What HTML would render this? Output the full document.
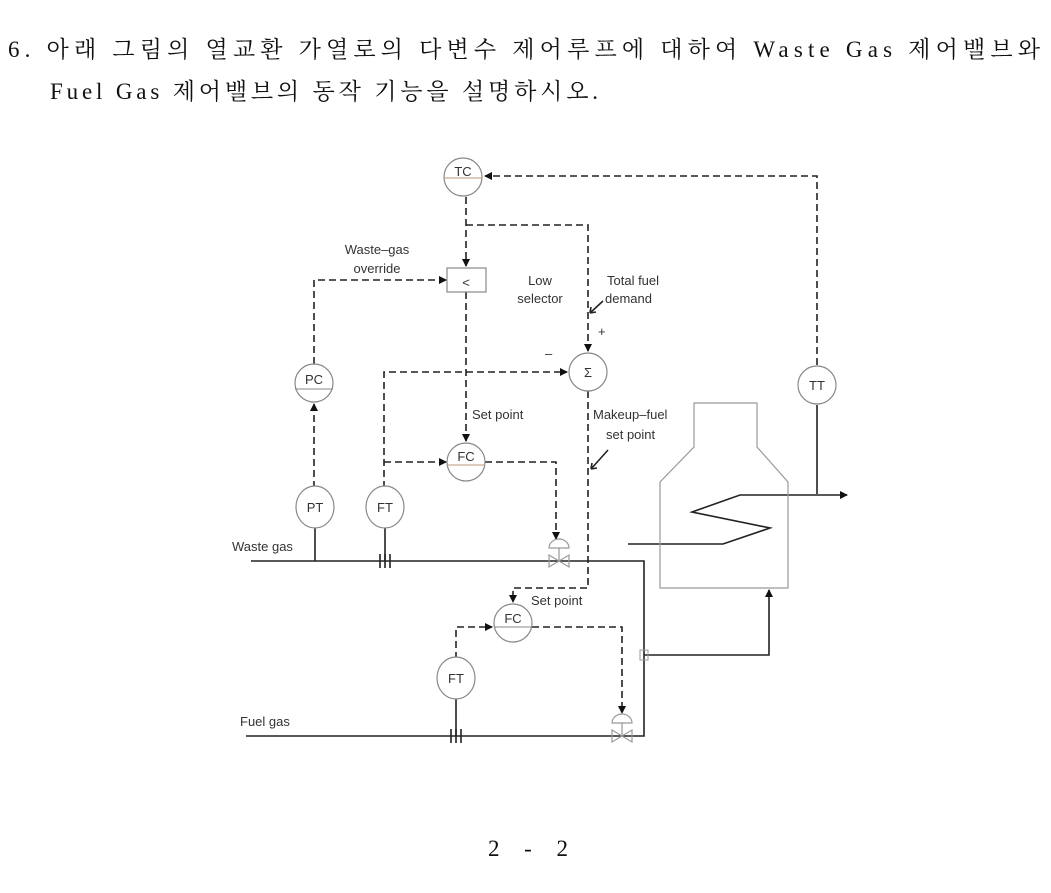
<!DOCTYPE html>
<html><head><meta charset="utf-8"><style>
html,body{margin:0;padding:0;background:#fff;width:1051px;height:893px;overflow:hidden}
svg{display:block}
.t{font-family:"Liberation Serif","Noto Serif CJK SC","Noto Sans CJK KR",serif;font-size:23px;fill:#111}
.s{font-family:"Liberation Sans",sans-serif;font-size:13px;fill:#333}
.d{stroke:#222;stroke-width:1.6;stroke-dasharray:7,4;fill:none}
.l{stroke:#222;stroke-width:1.6;fill:none}
.c{stroke:#888;stroke-width:1.2;fill:#fff}
.g{stroke:#999;stroke-width:1.2;fill:none}
</style></head><body>
<svg width="1051" height="893" viewBox="0 0 1051 893">
<defs><marker id="a" markerWidth="8" markerHeight="8" refX="7" refY="4" orient="auto" markerUnits="userSpaceOnUse"><path d="M0,0 L8,4 L0,8z" fill="#111"/></marker></defs>
<text class="t" x="8" y="57" textLength="1032" lengthAdjust="spacing">6. 아래 그림의 열교환 가열로의 다변수 제어루프에 대하여 Waste Gas 제어밸브와</text>
<text class="t" x="50" y="99" textLength="548" lengthAdjust="spacing">Fuel Gas 제어밸브의 동작 기능을 설명하시오.</text>
<text class="t" x="488" y="856" textLength="80" lengthAdjust="spacing">2 - 2</text>

<!-- dashed signal lines -->
<path class="d" d="M817,365 V176 H485" marker-end="url(#a)"/>
<path class="d" d="M466,197 V266" marker-end="url(#a)"/>
<path class="d" d="M466,225 H588 V351" marker-end="url(#a)"/>
<path class="d" d="M314,364 V280 H446" marker-end="url(#a)"/>
<path class="d" d="M466,292 V441" marker-end="url(#a)"/>
<path class="d" d="M384,488 V372 H567" marker-end="url(#a)"/>
<path class="d" d="M384,462 H446" marker-end="url(#a)"/>
<path class="d" d="M485,462 H556 V539" marker-end="url(#a)"/>
<path class="d" d="M314,488 V404" marker-end="url(#a)"/>
<path class="d" d="M588,391 V588 H513 V602" marker-end="url(#a)"/>
<path class="d" d="M456,659 V627 H492" marker-end="url(#a)"/>
<path class="d" d="M532,627 H622 V713" marker-end="url(#a)"/>

<!-- process lines -->
<path class="l" d="M251,561 H644 V736 H246"/>
<path class="l" d="M315,527 V561 M385,527 V561 M456,698 V736"/>
<path class="l" d="M380,554 V568 M385,554 V568 M390,554 V568 M451,729 V743 M456,729 V743 M461,729 V743"/>
<path class="l" d="M644,655 H769 V590" marker-end="url(#a)"/>
<path class="l" d="M817,405 V494"/>
<path class="l" d="M628,544 H723 L770,528 L692,512 L740,495 H847" marker-end="url(#a)"/>

<!-- furnace -->
<path class="g" d="M660,588 V482 L694,447 V403 H757 V447 L788,482 V588 Z"/>
<rect x="640" y="650" width="8" height="10" fill="none" stroke="#999"/>

<!-- valves -->
<g class="g"><path d="M549,555 L569,567 V555 L549,567 Z M559,561 V548"/><path d="M549,548 A10,9 0 0 1 569,548 Z"/></g>
<g class="g"><path d="M612,730 L632,742 V730 L612,742 Z M622,736 V723"/><path d="M612,723 A10,9 0 0 1 632,723 Z"/></g>

<!-- instruments -->
<g>
<circle class="c" cx="463" cy="177" r="19"/><line x1="444" y1="178" x2="482" y2="178" stroke="#b97" /><text class="s" x="463" y="176" text-anchor="middle">TC</text>
<rect x="447" y="268" width="39" height="24" class="c"/><text class="s" x="466" y="287" text-anchor="middle" font-size="18">&lt;</text>
<circle class="c" cx="314" cy="383" r="19"/><line x1="295" y1="389" x2="333" y2="389" stroke="#888"/><text class="s" x="314" y="384" text-anchor="middle">PC</text>
<circle class="c" cx="588" cy="372" r="19"/><text class="s" x="588" y="377" text-anchor="middle">Σ</text>
<circle class="c" cx="466" cy="462" r="19"/><line x1="447" y1="465" x2="485" y2="465" stroke="#b97"/><text class="s" x="466" y="461" text-anchor="middle">FC</text>
<circle class="c" cx="817" cy="385" r="19"/><text class="s" x="817" y="390" text-anchor="middle">TT</text>
<ellipse class="c" cx="315" cy="507" rx="19" ry="21"/><text class="s" x="315" y="512" text-anchor="middle">PT</text>
<ellipse class="c" cx="385" cy="507" rx="19" ry="21"/><text class="s" x="385" y="512" text-anchor="middle">FT</text>
<circle class="c" cx="513" cy="623" r="19"/><line x1="494" y1="627" x2="532" y2="627" stroke="#888"/><text class="s" x="513" y="623" text-anchor="middle">FC</text>
<ellipse class="c" cx="456" cy="678" rx="19" ry="21"/><text class="s" x="456" y="683" text-anchor="middle">FT</text>
</g>

<!-- labels -->
<text class="s" x="377" y="254" text-anchor="middle">Waste–gas</text>
<text class="s" x="377" y="273" text-anchor="middle">override</text>
<text class="s" x="540" y="285" text-anchor="middle">Low</text>
<text class="s" x="540" y="303" text-anchor="middle">selector</text>
<text class="s" x="607" y="285">Total fuel</text>
<text class="s" x="605" y="303">demand</text>
<path class="l" stroke-width="1.2" d="M603,301 L590,313 M590,313 l1,-6 M590,313 l6,-1"/>
<text class="s" x="598" y="336" font-size="9">+</text>
<text class="s" x="545" y="358" font-size="10">–</text>
<text class="s" x="472" y="419">Set point</text>
<text class="s" x="593" y="419">Makeup–fuel</text>
<text class="s" x="606" y="439">set point</text>
<path class="l" stroke-width="1.2" d="M608,450 L591,469 M591,469 l1,-6 M591,469 l6,-1"/>
<text class="s" x="531" y="605">Set point</text>
<text class="s" x="232" y="551">Waste gas</text>
<text class="s" x="240" y="726">Fuel gas</text>
</svg>
</body></html>
